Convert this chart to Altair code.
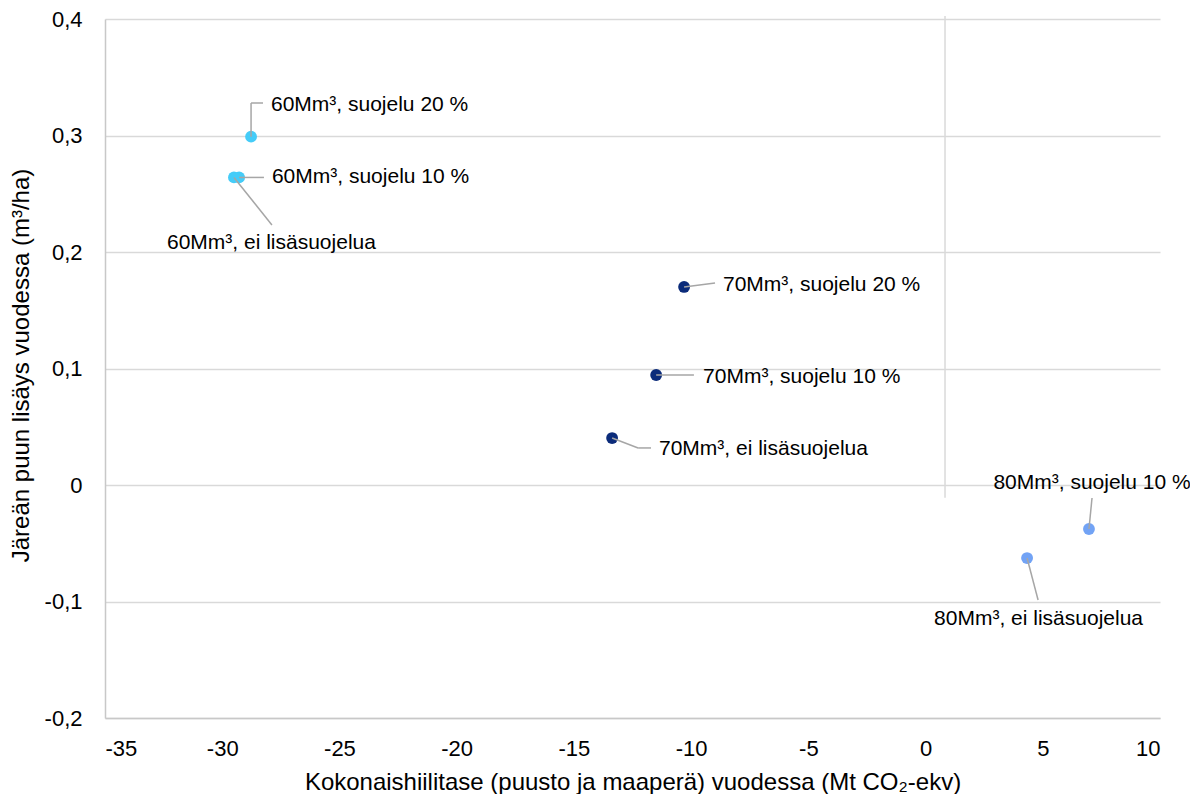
import altair as alt
import pandas as pd

labels = [
    "60Mm³, suojelu 20 %",
    "60Mm³, suojelu 10 %",
    "60Mm³, ei lisäsuojelua",
    "70Mm³, suojelu 20 %",
    "70Mm³, suojelu 10 %",
    "70Mm³, ei lisäsuojelua",
    "80Mm³, suojelu 10 %",
    "80Mm³, ei lisäsuojelua",
]
series = ["60", "60", "60", "70", "70", "70", "80", "80"]
x_vals = [-28.77, -29.28, -29.50, -10.30, -11.49, -13.37, 6.97, 4.33]
y_vals = [0.299, 0.264, 0.264, 0.170, 0.0944, 0.0403, -0.0378, -0.0627]

# label annotation geometry (data units)
corner_x = [-28.77, -29.28, -29.50, -10.30, -11.49, -12.26, 6.97, 4.33]
corner_y = [0.3279, 0.264, 0.264, 0.170, 0.0944, 0.0318, -0.0378, -0.0627]
anchor_x = [-28.26, -28.22, -27.88, -8.98, -9.88, -11.71, 7.10, 4.80]
anchor_y = [0.3279, 0.264, 0.2232, 0.1734, 0.0944, 0.0318, -0.0112, -0.0987]
text_x = [-27.92, -27.88, -27.90, -8.64, -9.49, -11.37, 7.10, 4.82]
text_y = [0.3262, 0.2644, 0.2077, 0.1717, 0.0927, 0.0309, 0.0017, -0.1150]
text_align = ["left", "left", "center", "left", "left", "left", "center", "center"]

x_ticks = [-35, -30, -25, -20, -15, -10, -5, 0, 5, 10]
y_ticks = [-0.2, -0.1, 0, 0.1, 0.2, 0.3, 0.4]

ref_x = [0.83]
ref_y = [0.4026]
ref_y2 = [-0.011]

series_domain = ["60", "70", "80"]
series_colors = ["#45CCF8", "#0B2B7A", "#72A3F5"]

df = pd.DataFrame({
    "label": labels, "series": series, "x": x_vals, "y": y_vals,
    "cx": corner_x, "cy": corner_y, "ax": anchor_x, "ay": anchor_y,
    "tx": text_x, "ty": text_y, "align": text_align,
})
ref_df = pd.DataFrame({"x": ref_x, "y": ref_y, "y2": ref_y2})

FONT = "Liberation Sans"
X_TITLE = "Kokonaishiilitase (puusto ja maaperä) vuodessa (Mt CO₂-ekv)"
Y_TITLE = "Järeän puun lisäys vuodessa (m³/ha)"

W, H = 1055, 699

xscale = alt.Scale(domain=[-35, 10], nice=False, zero=False)
yscale = alt.Scale(domain=[-0.2, 0.4], nice=False, zero=False)

xaxis = alt.Axis(
    values=x_ticks, grid=False, ticks=False, domainColor="#c8c8c8", domainWidth=1.5,
    labelExpr="toString(datum.value)", labelFont=FONT, labelFontSize=22,
    labelColor="#000000", labelPadding=20, titleFont=FONT, titleFontSize=24,
    titleFontWeight="normal", titleColor="#000000",
    titleX=W / 2, titleY=71, titleBaseline="alphabetic", titleAlign="center",
)
yaxis = alt.Axis(
    values=y_ticks, grid=True, gridColor="#d9d9d9", gridWidth=1.5, ticks=False,
    domainColor="#c8c8c8", domainWidth=1.5,
    labelExpr="replace(toString(datum.value), '.', ',')", labelFont=FONT,
    labelFontSize=22, labelColor="#000000", labelPadding=23, titleFont=FONT,
    titleFontSize=24, titleFontWeight="normal", titleColor="#000000",
    titleX=-84, titleY=346, titleBaseline="middle", titleAlign="center", titleAngle=270,
)


def X(field):
    return alt.X(f"{field}:Q", scale=xscale, axis=xaxis, title=X_TITLE)


def Y(field):
    return alt.Y(f"{field}:Q", scale=yscale, axis=yaxis, title=Y_TITLE)


ref = alt.Chart(ref_df).mark_rule(color="#d9d9d9", strokeWidth=1.5).encode(
    x=X("x"), y=Y("y"), y2="y2:Q"
)

points = alt.Chart(df).mark_circle(size=140, opacity=1).encode(
    x=X("x"), y=Y("y"),
    color=alt.Color("series:N", scale=alt.Scale(domain=series_domain, range=series_colors), legend=None),
)

seg1 = alt.Chart(df).mark_rule(color="#a6a6a6", strokeWidth=1.5).encode(
    x=X("x"), y=Y("y"), x2="cx:Q", y2="cy:Q"
)
seg2 = alt.Chart(df).mark_rule(color="#a6a6a6", strokeWidth=1.5).encode(
    x=X("cx"), y=Y("cy"), x2="ax:Q", y2="ay:Q"
)

text_left = alt.Chart(df).transform_filter(alt.datum.align == "left").mark_text(
    align="left", baseline="middle", font=FONT, fontSize=21, color="#000000"
).encode(x=X("tx"), y=Y("ty"), text="label:N")

text_center = alt.Chart(df).transform_filter(alt.datum.align == "center").mark_text(
    align="center", baseline="middle", font=FONT, fontSize=21, color="#000000"
).encode(x=X("tx"), y=Y("ty"), text="label:N")

chart = alt.layer(ref, points, seg1, seg2, text_left, text_center).properties(
    width=W, height=H,
    autosize=alt.AutoSizeParams(type="none"),
    padding={"left": 97, "top": 11, "right": 30, "bottom": 76},
    background="#ffffff",
).configure_view(stroke=None)

chart.save("out.html", embed_options={"renderer": "svg", "actions": False})
